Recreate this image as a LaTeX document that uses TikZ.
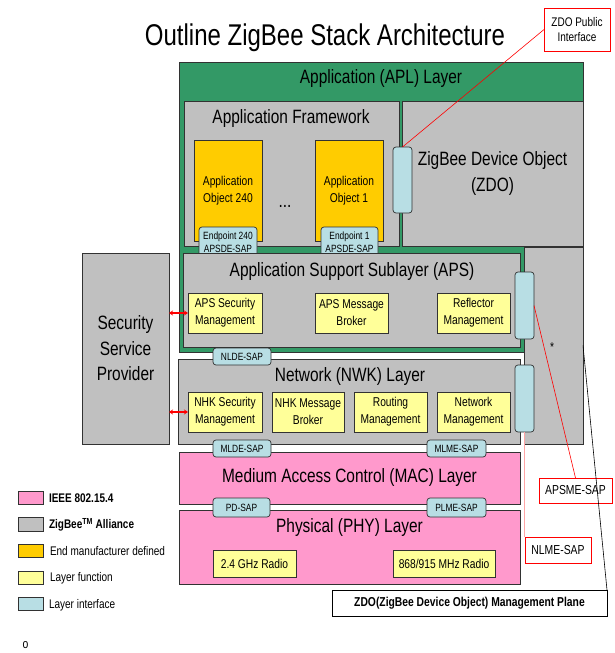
\documentclass[tikz,border=0pt]{standalone}
\usepackage{fontspec}
\setmainfont{Liberation Sans}[FakeStretch=0.8]
\usetikzlibrary{arrows.meta}
\definecolor{aplgreen}{RGB}{51,153,102}
\definecolor{zbgray}{RGB}{192,192,192}
\definecolor{mfgorange}{RGB}{255,204,0}
\definecolor{fnyellow}{RGB}{255,255,153}
\definecolor{ifblue}{RGB}{184,222,228}
\definecolor{ieeepink}{RGB}{255,153,204}
\definecolor{edgegray}{RGB}{50,50,50}
\newcommand\zbTitle{\fontsize{30}{34}\selectfont}
\newcommand\zbBig{\fontsize{19.3}{25.5}\selectfont}
\newcommand\zbSmall{\fontsize{12.8}{17}\selectfont}
\newcommand\zbTiny{\fontsize{10.5}{13}\selectfont}
\newcommand\zbCall{\fontsize{12.5}{15}\selectfont}
\newcommand\zbLeg{\fontsize{12.5}{15}\selectfont}
\begin{document}
\begin{tikzpicture}[x=1pt,y=-1pt,
  every node/.style={inner sep=0pt,outer sep=0pt},
  spanbox/.style args={#1/#2/#3/#4}{at={({(#1+#3)/2},{(#2+#4)/2})},
     minimum width={(#3-#1)*1pt}, minimum height={(#4-#2)*1pt}},
  layerbox/.style={draw=edgegray,line width=0.7pt},
  grn/.style={layerbox,fill=aplgreen},
  gry/.style={layerbox,fill=zbgray,align=center,font=\zbBig},
  org/.style={layerbox,fill=mfgorange,align=center,font=\zbSmall},
  yel/.style={layerbox,fill=fnyellow,align=center,font=\zbSmall},
  pnk/.style={layerbox,fill=ieeepink,align=center,font=\zbBig},
  iface/.style={draw=edgegray,line width=0.7pt,fill=ifblue,rounded corners=3pt,align=center,font=\zbTiny},
  callout/.style={draw=red,line width=0.8pt,fill=white,align=center,font=\zbCall},
  bigtxt/.style={font=\zbBig},
  legtxt/.style={font=\zbLeg,anchor=base west},
  dbl/.style={red,line width=1.2pt,{Stealth[length=4pt,width=5pt]}-{Stealth[length=4pt,width=5pt]}}
]
\path[use as bounding box,fill=white] (0,0) rectangle (614,653);

% title
\node[font=\zbTitle,anchor=base] (title) at (325,45) {Outline ZigBee Stack Architecture};

% application layer
\node[grn, spanbox=179/62/583/352] (apl) {};
\node[bigtxt] (apltxt) at (381,79) {Application (APL) Layer};
\node[gry, spanbox=524/247/583/444] (mcol) {};
\node[font=\zbSmall] (star) at (552,347) {*};
\node[gry, spanbox=184/101/399/246] (af) {};
\node[bigtxt] (aftxt) at (291,119) {Application Framework};
\node[gry, spanbox=402/101/583/246] (zdo) {ZigBee Device Object\\(ZDO)};
\node[org, spanbox=194/140/262/241] (ao240) {Application\\Object 240};
\node[org, spanbox=315/140/383/241] (ao1) {Application\\Object 1};
\node[font=\zbBig,anchor=base] (dots) at (285,207) {...};
\node[iface, spanbox=199/227/257/258] (ep240) {Endpoint 240\\APSDE-SAP};
\node[iface, spanbox=321/227/378/258] (ep1) {Endpoint 1\\APSDE-SAP};
\node[iface, spanbox=393/147/412/213] (zdoif) {};

% APS
\node[gry, spanbox=183/253/520/347] (aps) {};
\node[bigtxt] (apstxt) at (352,272) {Application Support Sublayer (APS)};
\node[yel, spanbox=188/293/262/333] (apssec) {APS Security\\Management};
\node[yel, spanbox=315/293/388/333] (apsmb) {APS Message\\Broker};
\node[yel, spanbox=437/293/510/333] (refl) {Reflector\\Management};
\node[iface, spanbox=515/272/534/339] (apsif) {};

% NWK
\node[gry, spanbox=178/359/520/444] (nwk) {};
\node[bigtxt] (nwktxt) at (350,377) {Network (NWK) Layer};
\node[yel, spanbox=188/392/262/432] (nhksec) {NHK Security\\Management};
\node[yel, spanbox=272/392/344/432] (nhkmb) {NHK Message\\Broker};
\node[yel, spanbox=354/392/427/432] (rout) {Routing\\Management};
\node[yel, spanbox=437/392/510/432] (netm) {Network\\Management};
\node[iface, spanbox=515/365/534/432] (nwkif) {};

% MAC / PHY
\node[pnk, spanbox=179/452/520/504] (mac) {Medium Access Control (MAC) Layer};
\node[pnk, spanbox=179/510/520/584] (phy) {};
\node[bigtxt] (phytxt) at (349.5,528) {Physical (PHY) Layer};
\node[yel, spanbox=213/550/296/577] (r24) {2.4 GHz Radio};
\node[yel, spanbox=393/550/495/577] (r868) {868/915 MHz Radio};

% SAPs
\node[iface, spanbox=213/348/271/365] (nlde) {NLDE-SAP};
\node[iface, spanbox=213/440/271/457] (mlde) {MLDE-SAP};
\node[iface, spanbox=427/440/486/457] (mlme) {MLME-SAP};
\node[iface, spanbox=213/498/270/517] (pdsap) {PD-SAP};
\node[iface, spanbox=427/498/486/517] (plme) {PLME-SAP};

% security service provider
\node[gry, spanbox=82/253/169/444] (ssp) {Security\\Service\\Provider};
\draw[dbl] (ssp.east |- apssec.west) -- (apssec.west);
\draw[dbl] (ssp.east |- nhksec.west) -- (nhksec.west);

% callouts
\node[callout, spanbox=544/8/610/51] (zdopub) {ZDO Public\\Interface};
\node[callout, font=\fontsize{13}{15}\selectfont, spanbox=539/478/612/503] (apsme) {APSME-SAP};
\node[callout, font=\fontsize{13}{15}\selectfont, spanbox=525/537/591/563] (nlme) {NLME-SAP};
\node[draw=black,line width=0.9pt,fill=white,font=\fontsize{12.9}{15}\selectfont\bfseries, spanbox=332/590/607/616] (mgmt) {ZDO(ZigBee Device Object) Management Plane};

\draw[red,line width=0.6pt] (zdoif.north) -- (zdopub.west);
\draw[red,line width=0.6pt] (apsif.east) -- (apsme.north);
\draw[red!35,line width=1pt] (nwkif.south) -- (nwkif.south |- nlme.north);
\draw[black,line width=0.6pt] (mcol.east) -- (mgmt.north east);

% legend
\node[layerbox,fill=ieeepink, spanbox=18/491/43/504] (lg1) {};
\node[layerbox,fill=zbgray, spanbox=18/517/43/531] (lg2) {};
\node[layerbox,fill=mfgorange, spanbox=18/544/43/557] (lg3) {};
\node[layerbox,fill=fnyellow, spanbox=18/571/43/584] (lg4) {};
\node[layerbox,fill=ifblue, spanbox=18/597/43/610] (lg5) {};
\node[legtxt,font=\zbLeg\bfseries] (lt1) at (49,502) {IEEE 802.15.4};
\node[legtxt,font=\zbLeg\bfseries] (lt2) at (49,528.5) {ZigBee\textsuperscript{TM} Alliance};
\node[legtxt] (lt3) at (50,555) {End manufacturer defined};
\node[legtxt] (lt4) at (50,581.5) {Layer function};
\node[legtxt] (lt5) at (49,608) {Layer interface};

\node[font=\fontsize{13}{15}\selectfont] (bullet) at (25.5,645) {o};
\end{tikzpicture}
\end{document}
